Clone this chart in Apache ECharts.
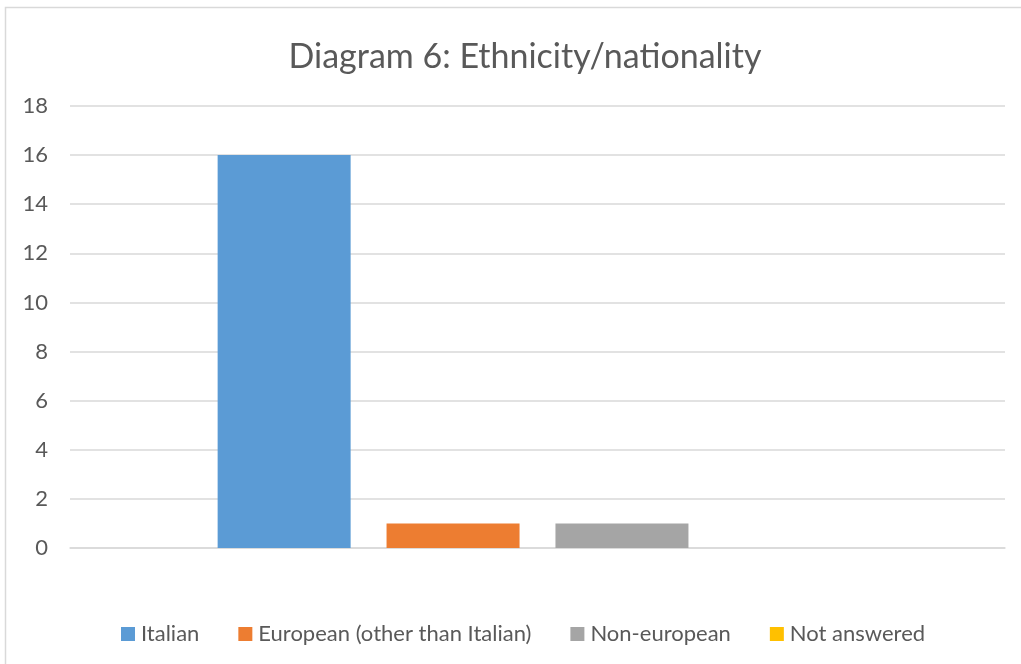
<!DOCTYPE html>
<html>
<head>
<meta charset="utf-8">
<script src="https://cdn.jsdelivr.net/npm/echarts@6/dist/echarts.min.js"></script>
<style>
  html, body { margin: 0; padding: 0; background: #fff; }
  #chart { width: 1021px; height: 664px; }
</style>
</head>
<body>
<div id="chart"></div>
<script>
// Survey responses by ethnicity/nationality
const categories = ['Ethnicity'];
const seriesNames = ['Italian', 'European (other than Italian)', 'Non-european', 'Not answered'];
const seriesValues = [16, 1, 1, 0];
const seriesColors = ['#5b9bd5', '#ed7d31', '#a5a5a5', '#ffc000'];
const yTicks = [0, 18, 2];

const chart = echarts.init(document.getElementById('chart'));
const font = 'Lato, "Open Sans", sans-serif';

chart.setOption({
  backgroundColor: '#fff',
  animation: false,
  title: {
    text: 'Diagram 6: Ethnicity/nationality',
    left: 520,
    top: 35,
    textAlign: 'center',
    textStyle: { fontFamily: font, fontSize: 34, fontWeight: 'normal', color: '#595959' }
  },
  graphic: [{
    type: 'rect',
    shape: { x: 5.5, y: 7.5, width: 1100, height: 700 },
    style: { fill: 'none', stroke: '#d9d9d9', lineWidth: 1.5 },
    silent: true
  }],
  legend: {
    top: 618,
    left: 116,
    itemWidth: 14,
    itemHeight: 14,
    itemGap: 39,
    icon: 'rect',
    textStyle: { fontFamily: font, fontSize: 22, color: '#595959', padding: [0, 0, 0, 1] },
    data: seriesNames
  },
  grid: { left: 70, right: 16, top: 106, bottom: 116 },
  xAxis: {
    type: 'category',
    data: categories,
    axisLine: { show: true, lineStyle: { color: '#d9d9d9', width: 1.5 } },
    axisTick: { show: false },
    axisLabel: { show: false }
  },
  yAxis: {
    type: 'value',
    min: yTicks[0],
    max: yTicks[1],
    interval: yTicks[2],
    axisLine: { show: false },
    axisTick: { show: false },
    axisLabel: { fontFamily: font, fontSize: 22, color: '#595959', margin: 22 },
    splitLine: { lineStyle: { color: '#d9d9d9', width: 1.5 } }
  },
  series: seriesNames.map((name, i) => ({
    name: name,
    type: 'bar',
    data: [seriesValues[i]],
    barWidth: 133,
    barGap: '27%',
    itemStyle: { color: seriesColors[i] }
  }))
});
</script>
</body>
</html>
